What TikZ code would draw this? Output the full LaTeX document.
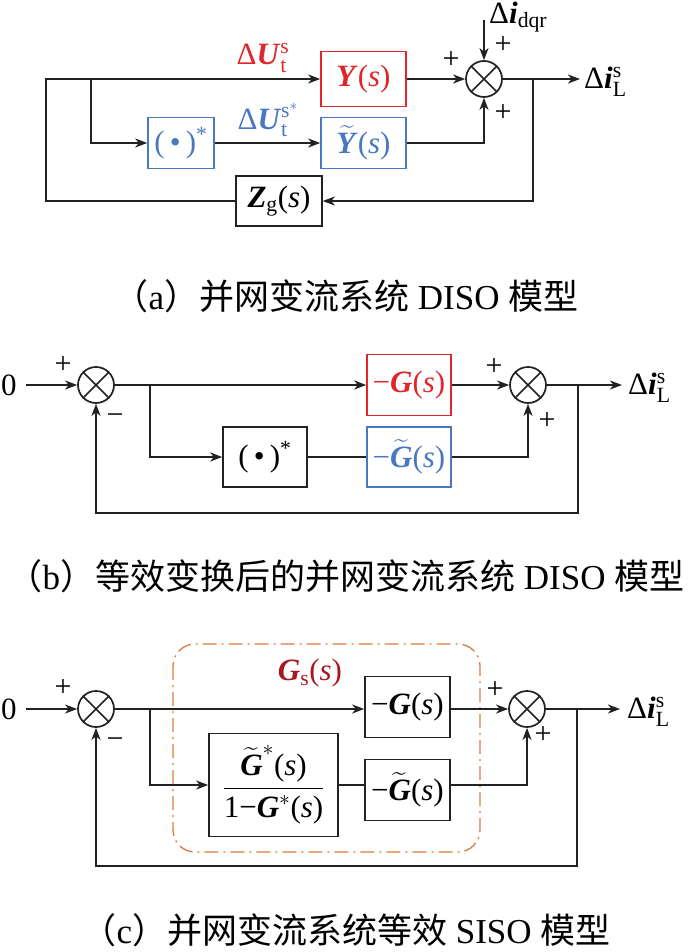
\RequirePackage{fix-cm}
\documentclass[tikz,border=0pt]{standalone}
\usepackage{amsmath}
\usepackage{fontspec}
\setmainfont{Liberation Serif}
\newfontfamily\cjk{Noto Sans CJK SC}
\usetikzlibrary{arrows.meta}
\definecolor{myred}{HTML}{E0262B}
\definecolor{myblue}{HTML}{4A78C0}
\definecolor{dkred}{HTML}{A8161F}
\definecolor{myorange}{HTML}{DC7A3C}
\definecolor{lnc}{HTML}{222222}
\newcommand{\bi}[1]{\textbf{\textit{#1}}}
\newcommand{\conjop}{(\,\textbullet\,)$^{\text{*}}$}
\tikzset{
  every node/.style={font=\fontsize{31}{36}\selectfont},
  ln/.style={line width=1.7pt, draw=lnc},
  arr/.style={ln, -{Stealth[length=12pt,width=9pt,inset=3.5pt]}},
  blk/.style={draw=lnc, line width=1.6pt, inner sep=0pt, align=center},
  sumn/.style={circle, draw=lnc, line width=1.7pt, minimum size=36pt, inner sep=0pt},
  lbl/.style={inner sep=0pt},
  sgn/.style={inner sep=0pt, font=\fontsize{30}{32}\selectfont},
  capt/.style={inner sep=0pt, font=\fontsize{35}{40}\selectfont},
}
\newcommand{\sumcross}[1]{\draw[ln] (#1.north west) -- (#1.south east) (#1.north east) -- (#1.south west);}
\begin{document}
\begin{tikzpicture}[x=1pt,y=-1pt]
\useasboundingbox (0,0) rectangle (693,952);
% ---------------- (a) ----------------
\node[blk, draw=myred, text=myred, minimum width=85pt, minimum height=55pt] (Ya) at (363.5,79) {\bi{Y}(\textit{s})};
\node[blk, draw=myblue, text=myblue, minimum width=85pt, minimum height=51pt] (Yta) at (363.5,143) {$\widetilde{\bi{Y}}$(\textit{s})};
\node[blk, draw=myblue, text=myblue, minimum width=66pt, minimum height=51pt] (cja) at (181,143) {\conjop};
\node[blk, minimum width=86pt, minimum height=50pt] (Zg) at (279,201) {\bi{Z}$_{\text{g}}$(\textit{s})};
\node[sumn] (sa) at (484,79) {};
\sumcross{sa}
\coordinate (atl) at (46,79);
\coordinate (abl) at (46,201);
\coordinate (abr) at (91,79);
\coordinate (afb) at (533,79);
\coordinate (afb2) at (533,201);
\coordinate (aout) at (580,79);
\coordinate (adqr) at (484,20);
\node[lbl, anchor=west] (ila) at (584,82) {Δ\bi{i}$^{\text{s}}_{\text{L}}$};
\node[lbl, anchor=west] (dqr) at (489,17) {Δ\bi{i}$_{\text{dqr}}$};
\node[lbl, text=myred] (Ua) at (263,58) {Δ\bi{U}$^{\text{s}}_{\text{t}}$};
\node[lbl, text=myblue] (Usa) at (268,120) {Δ\bi{U}$^{\text{s}^{*}}_{\text{t}}$};
\node[sgn] (pa1) at (451,60) {+};
\node[sgn] (pa2) at (503,45) {+};
\node[sgn] (pa3) at (503,113) {+};
\draw[arr] (Zg.west) -- (abl) -- (atl) -- (Ya.west);
\draw[arr] (abr) |- (cja.west);
\draw[arr] (cja.east) -- (Yta.west);
\draw[arr] (Ya.east) -- (sa.west);
\draw[arr] (Yta.east) -| (sa.south);
\draw[arr] (adqr) -- (sa.north);
\draw[arr] (sa.east) -- (aout);
\draw[arr] (afb) -- (afb2) -- (Zg.east);
\node[capt] (capa) at (346,296) {{\cjk （}a{\cjk ）并网变流系统} DISO {\cjk 模型}};
% ---------------- (b) ----------------
\node[lbl] (zb) at (9,385) {0};
\node[sumn] (sb1) at (96,385) {};
\sumcross{sb1}
\node[sumn] (sb2) at (528,385) {};
\sumcross{sb2}
\node[blk, draw=myred, text=myred, minimum width=84pt, minimum height=61pt] (Gb) at (409,385) {−\bi{G}(\textit{s})};
\node[blk, draw=myblue, text=myblue, minimum width=84pt, minimum height=60pt] (Gtb) at (409,457) {−$\widetilde{\bi{G}}$(\textit{s})};
\node[blk, minimum width=84pt, minimum height=60pt] (cjb) at (265,457) {\conjop};
\coordinate (bbr) at (150,385);
\coordinate (bfb) at (578,385);
\coordinate (bfb2) at (578,513);
\coordinate (bfb3) at (96,513);
\coordinate (bout) at (622,385);
\node[lbl, anchor=west] (ilb) at (628,388) {Δ\bi{i}$^{\text{s}}_{\text{L}}$};
\node[sgn] (pb1) at (63,365) {+};
\node[sgn] (mb1) at (115,419) {−};
\node[sgn] (pb2) at (494,367) {+};
\node[sgn] (pb3) at (547,421) {+};
\draw[arr] ([xshift=9pt]zb.east) -- (sb1.west);
\draw[arr] (sb1.east) -- (Gb.west);
\draw[arr] (bbr) |- (cjb.west);
\draw[ln] (cjb.east) -- (Gtb.west);
\draw[arr] (Gb.east) -- (sb2.west);
\draw[arr] (Gtb.east) -| (sb2.south);
\draw[arr] (sb2.east) -- (bout);
\draw[arr] (bfb) -- (bfb2) -- (bfb3) -- (sb1.south);
\node[capt] (capb) at (346,576) {{\cjk （}b{\cjk ）等效变换后的并网变流系统} DISO {\cjk 模型}};
% ---------------- (c) ----------------
\draw[myorange, line width=1.3pt, rounded corners=22pt, dash pattern=on 14pt off 5pt on 2pt off 5pt] (173,644) rectangle (480,852);
\node[lbl, text=dkred] (Gs) at (310,673) {\bi{G}$_{\text{s}}$(\textit{s})};
\node[lbl] (zc) at (9,709) {0};
\node[sumn] (sc1) at (96,709) {};
\sumcross{sc1}
\node[sumn] (sc2) at (527,709) {};
\sumcross{sc2}
\node[blk, minimum width=85pt, minimum height=61pt] (Gc) at (407.5,707) {−\bi{G}(\textit{s})};
\node[blk, minimum width=85pt, minimum height=61pt] (Gtc) at (407.5,790) {−$\widetilde{\bi{G}}$(\textit{s})};
\node[blk, minimum width=129pt, minimum height=103pt] (fr) at (273.5,785) {$\dfrac{\widetilde{\bi{G}}^{*}\text{(\textit{s})}}{\text{1−}\bi{G}^{*}\text{(\textit{s})}}$};
\coordinate (cbr) at (150,709);
\coordinate (cfb) at (577,709);
\coordinate (cfb2) at (577,866);
\coordinate (cfb3) at (96,866);
\coordinate (cout) at (620,709);
\node[lbl, anchor=west] (ilc) at (627,712) {Δ\bi{i}$^{\text{s}}_{\text{L}}$};
\node[sgn] (pc1) at (63,688) {+};
\node[sgn] (mc1) at (115,743) {−};
\node[sgn] (pc2) at (495,690) {+};
\node[sgn] (pc3) at (543,735) {+};
\draw[arr] ([xshift=9pt]zc.east) -- (sc1.west);
\draw[arr] (sc1.east) -- (Gc.west |- sc1.east);
\draw[arr] (cbr) |- (fr.west);
\draw[ln] (fr.east) -- (Gtc.west |- fr.east);
\draw[arr] (Gc.east |- sc2.west) -- (sc2.west);
\draw[arr] (Gtc.east |- fr.east) -| (sc2.south);
\draw[arr] (sc2.east) -- (cout);
\draw[arr] (cfb) -- (cfb2) -- (cfb3) -- (sc1.south);
\node[capt] (capc) at (346,930) {{\cjk （}c{\cjk ）并网变流系统等效} SISO {\cjk 模型}};
\end{tikzpicture}
\end{document}
